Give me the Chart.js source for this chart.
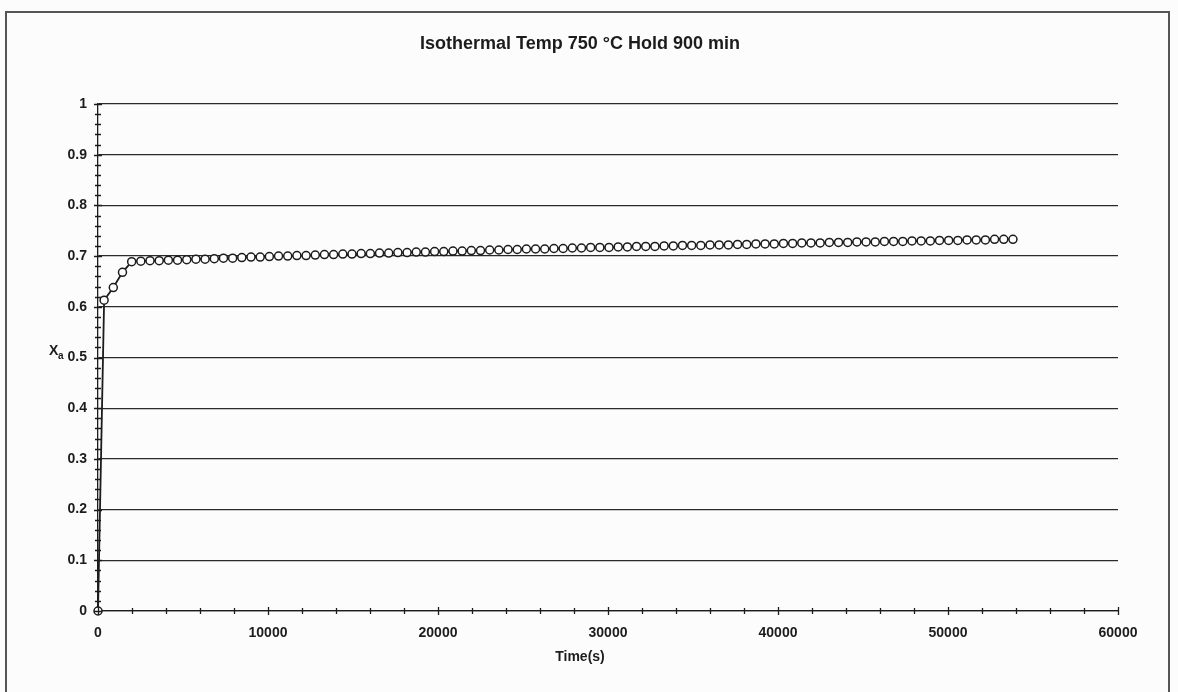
<!DOCTYPE html>
<html>
<head>
<meta charset="utf-8">
<script src="https://cdn.jsdelivr.net/npm/chart.js@4.4.1/dist/chart.umd.min.js"></script>
<style>
  html, body { margin: 0; padding: 0; background: #fcfcfc; }
  #wrap { position: relative; width: 1178px; height: 692px; }
  #frame { position: absolute; left: 5px; top: 11px; width: 1165px; height: 690px; border: 2px solid #555; box-sizing: border-box; }
  canvas { position: absolute; left: 0; top: 0; }
</style>
</head>
<body>
<div id="wrap">
  <div id="frame"></div>
  <canvas id="myChart" width="1178" height="692"></canvas>
</div>
<script>
// chart data
const chartTitle = 'Isothermal Temp 750 °C Hold 900 min';
const xTitle = 'Time(s)';
const timeSec = [0, 360, 900, 1440, 1980, 2520, 3060, 3600, 4140, 4680, 5220, 5760, 6300, 6840, 7380, 7920, 8460, 9000, 9540, 10080,
  10620, 11160, 11700, 12240, 12780, 13320, 13860, 14400, 14940, 15480, 16020, 16560, 17100, 17640, 18180, 18720, 19260, 19800, 20340, 20880,
  21420, 21960, 22500, 23040, 23580, 24120, 24660, 25200, 25740, 26280, 26820, 27360, 27900, 28440, 28980, 29520, 30060, 30600, 31140, 31680,
  32220, 32760, 33300, 33840, 34380, 34920, 35460, 36000, 36540, 37080, 37620, 38160, 38700, 39240, 39780, 40320, 40860, 41400, 41940, 42480,
  43020, 43560, 44100, 44640, 45180, 45720, 46260, 46800, 47340, 47880, 48420, 48960, 49500, 50040, 50580, 51120, 51660, 52200, 52740, 53280, 53820];
const fraction = [0, 0.613, 0.638, 0.668, 0.689, 0.690, 0.691, 0.691, 0.692, 0.692, 0.693, 0.694, 0.694, 0.695, 0.696, 0.696, 0.697, 0.698, 0.698, 0.699,
  0.700, 0.700, 0.701, 0.701, 0.702, 0.703, 0.703, 0.704, 0.704, 0.705, 0.705, 0.706, 0.706, 0.707, 0.707, 0.708, 0.708, 0.709, 0.709, 0.710,
  0.710, 0.711, 0.711, 0.712, 0.712, 0.713, 0.713, 0.714, 0.714, 0.714, 0.715, 0.715, 0.716, 0.716, 0.717, 0.717, 0.717, 0.718, 0.718, 0.719,
  0.719, 0.719, 0.720, 0.720, 0.721, 0.721, 0.721, 0.722, 0.722, 0.722, 0.723, 0.723, 0.724, 0.724, 0.724, 0.725, 0.725, 0.726, 0.726, 0.726,
  0.727, 0.727, 0.727, 0.728, 0.728, 0.728, 0.729, 0.729, 0.729, 0.730, 0.730, 0.730, 0.731, 0.731, 0.731, 0.732, 0.732, 0.732, 0.733, 0.733, 0.733];

const ink = '#1c1c1c';
const font = 'Liberation Sans, Arial, sans-serif';

// titles, axis label with subscript and the cross tick marks
const decorations = {
  id: 'decorations',
  afterDraw(chart) {
    const c = chart.ctx, xs = chart.scales.x, ys = chart.scales.y;
    c.save();
    c.fillStyle = ink;
    c.strokeStyle = ink;
    c.textBaseline = 'middle';
    c.textAlign = 'center';
    c.font = 'bold 18px ' + font;
    c.fillText(chartTitle, 580, 44);
    c.font = 'bold 14px ' + font;
    c.fillText(xTitle, 580, 657);
    // y title X with subscript a
    c.textAlign = 'left';
    c.font = 'bold 14px ' + font;
    c.fillText('X', 49, 351);
    c.font = 'bold 10px ' + font;
    c.fillText('a', 58, 356);

    c.lineWidth = 1.3;
    c.beginPath();
    for (let i = 0; i <= 50; i++) {
      const py = Math.round(ys.getPixelForValue(i / 50)) + 0.5;
      const len = i % 5 === 0 ? 4 : 3;
      c.moveTo(xs.left - len, py); c.lineTo(xs.left + len, py);
    }
    for (let i = 0; i <= 30; i++) {
      const px = Math.round(xs.getPixelForValue(i * 2000)) + 0.5;
      const len = i % 5 === 0 ? 4 : 3;
      c.moveTo(px, ys.bottom - len); c.lineTo(px, ys.bottom + len);
    }
    c.stroke();
    c.restore();
  }
};

const ctx = document.getElementById('myChart').getContext('2d');
new Chart(ctx, {
  type: 'line',
  data: {
    labels: timeSec,
    datasets: [{
      data: timeSec.map((t, i) => ({ x: t, y: fraction[i] })),
      borderColor: ink,
      borderWidth: 1.8,
      backgroundColor: '#ffffff',
      pointBackgroundColor: '#ffffff',
      pointBorderColor: ink,
      pointBorderWidth: 1.5,
      pointRadius: 4,
      tension: 0,
      fill: false,
      clip: 8
    }]
  },
  plugins: [decorations],
  options: {
    responsive: false,
    animation: false,
    layout: { padding: { left: 0, right: 60, top: 104, bottom: 0 } },
    plugins: { legend: { display: false }, tooltip: { enabled: false } },
    scales: {
      x: {
        type: 'linear',
        min: 0, max: 60000,
        afterFit(s) { s.height = 81; },
        border: { display: true, color: ink, width: 1.3 },
        grid: { display: false, drawTicks: false },
        ticks: {
          stepSize: 10000, padding: 14, color: ink,
          font: { family: font, size: 14, weight: 'bold' },
          maxRotation: 0,
          callback: v => String(v)
        }
      },
      y: {
        min: 0, max: 1,
        afterFit(s) { s.width = 98; },
        border: { display: true, color: ink, width: 1.3 },
        grid: { color: '#2a2a2a', lineWidth: 1.3, drawTicks: false },
        ticks: {
          stepSize: 0.1, padding: 11, color: ink,
          font: { family: font, size: 14, weight: 'bold' },
          callback: v => String(Math.round(v * 10) / 10)
        }
      }
    }
  }
});
</script>
</body>
</html>
